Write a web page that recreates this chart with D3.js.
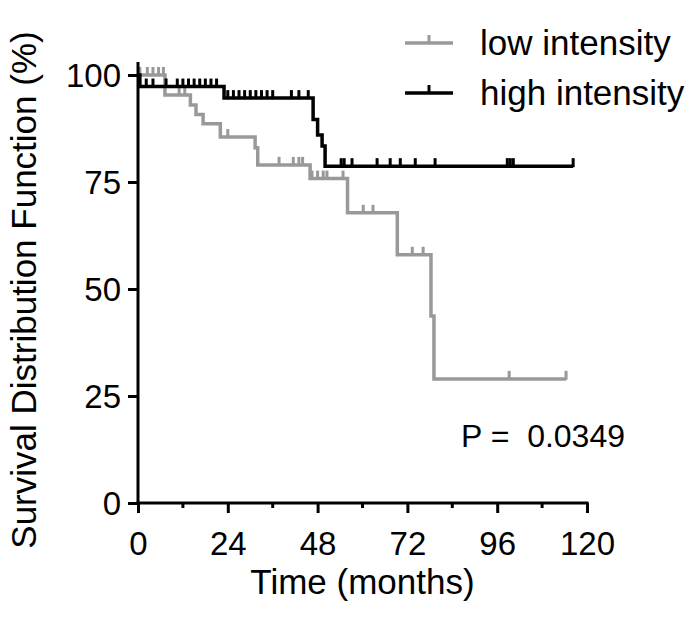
<!DOCTYPE html>
<html>
<head>
<meta charset="utf-8">
<script src="https://cdn.jsdelivr.net/npm/d3@7"></script>
<style>
  html, body { margin: 0; padding: 0; background: #fff; }
  svg { display: block; font-family: "Liberation Sans", Arial, sans-serif; }
</style>
</head>
<body>
<svg id="chart" width="696" height="618"></svg>
<script>
// ---- data ----
const xTicks = [0, 24, 48, 72, 96, 120];
const xMinorTicks = [12, 36, 60, 84, 108];
const yTicks = [0, 25, 50, 75, 100];

// low intensity: step times and survival (%)
const lowTimes    = [0, 7.2, 14, 15.5, 17.4, 22, 31.3, 32, 46, 56, 69.3, 78.3, 79.1, 114.4];
const lowSurv     = [100, 95.3, 93.0, 90.8, 88.6, 85.5, 83.0, 79.0, 75.8, 67.8, 58.0, 43.7, 29.0, 29.0];
const lowCensor   = [0.5, 2.5, 4, 5.5, 6.8, 11, 12.5, 24, 37.7, 41.5, 43, 44, 46.5, 48, 49.5, 50.5, 54.8, 60.2, 62.8, 73.3, 76.2, 99.2, 114.4];

// high intensity
const highTimes   = [0, 0.5, 23, 46.8, 48, 49.2, 50, 116.3];
const highSurv    = [100, 97.3, 94.6, 89.6, 86.0, 83.4, 78.7, 78.7];
const highCensor  = [2.2, 4, 7.5, 10.5, 12, 13.5, 15, 16.5, 18, 19.5, 21,
                     24, 25.5, 27, 28.5, 30, 31.5, 33, 34.5, 36, 41, 43, 45.5,
                     54.3, 55.1, 57.2, 63.9, 67.4, 70.1, 74.1, 79.4, 98.7, 99.5, 100.3, 116.3];

const seriesNames = ["low intensity", "high intensity"];
const seriesColors = ["#999999", "#000000"];
const pText = "P =  0.0349";

// ---- layout ----
const svg = d3.select("#chart");
const x = d3.scaleLinear().domain([0, 120]).range([138, 587]);
const y = d3.scaleLinear().domain([0, 100]).range([503, 75]);

function survAt(times, surv, t) {
  let s = surv[0];
  for (let i = 0; i < times.length; i++) { if (times[i] <= t) s = surv[i]; }
  return s;
}

const series = [
  { name: seriesNames[0], color: seriesColors[0], times: lowTimes, surv: lowSurv, censor: lowCensor },
  { name: seriesNames[1], color: seriesColors[1], times: highTimes, surv: highSurv, censor: highCensor }
];

const line = d3.line().x(d => x(d[0])).y(d => y(d[1])).curve(d3.curveStepAfter);

series.forEach(s => {
  const pts = s.times.map((t, i) => [t, s.surv[i]]);
  svg.append("path")
    .attr("d", line(pts))
    .attr("fill", "none")
    .attr("stroke", s.color)
    .attr("stroke-width", 3.5);
  svg.append("g").selectAll("line")
    .data(s.censor)
    .join("line")
    .attr("x1", d => x(d)).attr("x2", d => x(d))
    .attr("y1", d => y(survAt(s.times, s.surv, d)) + 1)
    .attr("y2", d => y(survAt(s.times, s.surv, d)) - 8)
    .attr("stroke", s.color)
    .attr("stroke-width", 3);
});

// ---- axes ----
const xAxis = svg.append("g").attr("transform", `translate(0,${y(0)})`)
  .call(d3.axisBottom(x).tickValues(xTicks).tickSize(10).tickSizeOuter(0).tickFormat(d3.format("d")));
xAxis.append("g").selectAll("line").data(xMinorTicks).join("line")
  .attr("x1", d => x(d)).attr("x2", d => x(d)).attr("y1", 0).attr("y2", 5)
  .attr("stroke", "#000").attr("stroke-width", 3);
xAxis.select(".domain").attr("d", `M${x(0) - 1.5},0H${x(120) + 1.5}`);

const yAxis = svg.append("g").attr("transform", `translate(${x(0)},0)`)
  .call(d3.axisLeft(y).tickValues(yTicks).tickSize(10).tickSizeOuter(0).tickFormat(d3.format("d")));
yAxis.select(".domain").attr("d", `M0,${y(0) + 1.5}V62`);

[xAxis, yAxis].forEach(a => {
  a.selectAll(".domain").attr("stroke", "#000").attr("stroke-width", 3);
  a.selectAll(".tick line").attr("stroke", "#000").attr("stroke-width", 3);
  a.selectAll(".tick text").attr("font-size", 33).attr("fill", "#000")
    .attr("font-family", "Liberation Sans, Arial, sans-serif");
});
xAxis.selectAll(".tick text").attr("dy", null).attr("y", 52);
yAxis.selectAll(".tick text").attr("dy", "0.36em").attr("x", -17);

// axis titles
svg.append("text")
  .attr("x", (x(0) + x(120)) / 2).attr("y", 594)
  .attr("text-anchor", "middle").attr("font-size", 35)
  .text("Time (months)");
svg.append("text")
  .attr("transform", `translate(36,${290}) rotate(-90)`)
  .attr("text-anchor", "middle").attr("font-size", 35)
  .text("Survival Distribution Function (%)");

// legend
const legY = [43, 93];
series.forEach((s, i) => {
  const g = svg.append("g");
  g.append("line").attr("x1", 405).attr("x2", 453).attr("y1", legY[i]).attr("y2", legY[i])
    .attr("stroke", s.color).attr("stroke-width", 3.5);
  g.append("line").attr("x1", 429).attr("x2", 429).attr("y1", legY[i]).attr("y2", legY[i] - 8)
    .attr("stroke", s.color).attr("stroke-width", 3);
  g.append("text").attr("x", 480).attr("y", legY[i] + 12).attr("font-size", 35)
    .attr("fill", "#000").text(s.name);
});

// p value
svg.append("text").attr("x", 461).attr("y", 447).attr("font-size", 32)
  .attr("xml:space", "preserve").style("white-space", "pre").text(pText);
</script>
</body>
</html>
